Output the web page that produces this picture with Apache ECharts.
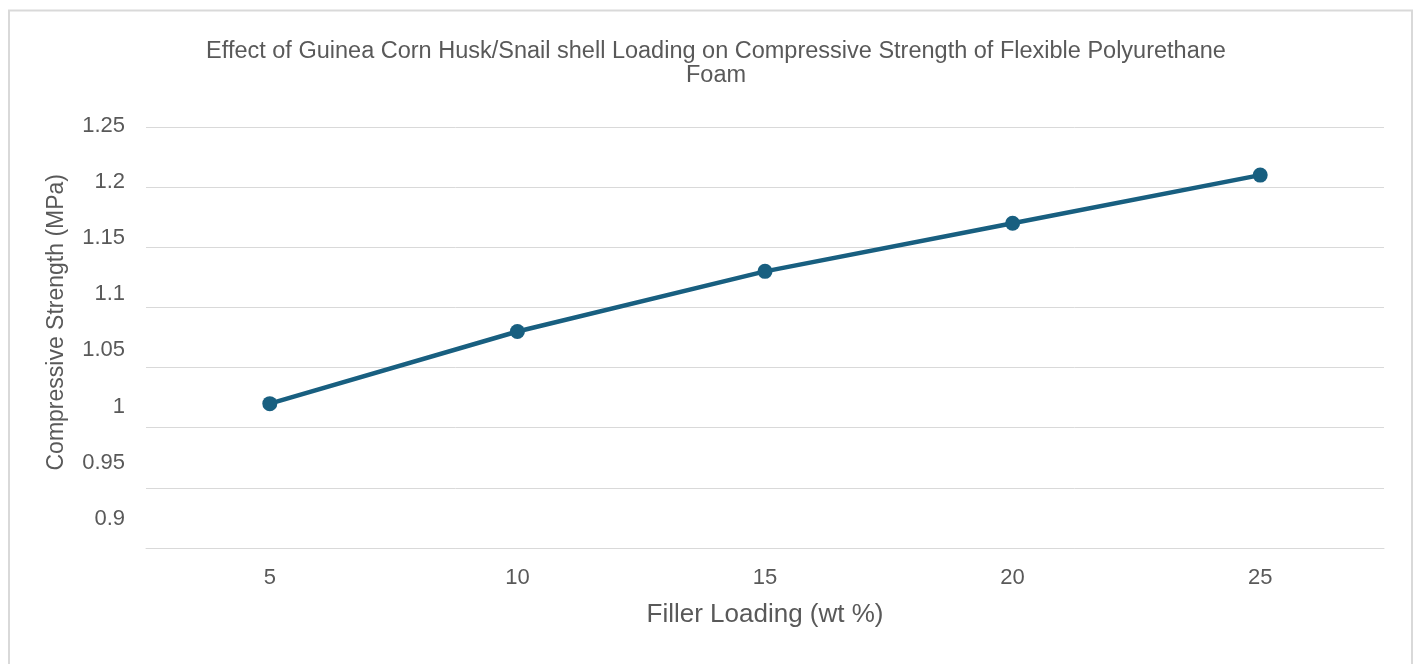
<!DOCTYPE html>
<html>
<head>
<meta charset="utf-8">
<script src="https://cdn.jsdelivr.net/npm/echarts@6/dist/echarts.min.js"></script>
<style>
html,body{margin:0;padding:0;background:#fff;}
#chart{width:1417px;height:664px;}
</style>
</head>
<body>
<div id="chart"></div>
<script>
const categories = ['5', '10', '15', '20', '25'];
const strengthValues = [1.02, 1.08, 1.13, 1.17, 1.21];
const titleText = 'Effect of Guinea Corn Husk/Snail shell Loading on Compressive Strength of Flexible Polyurethane\nFoam';
const xAxisName = 'Filler Loading (wt %)';
const yAxisName = 'Compressive Strength (MPa)';
const yMin = 0.9, yMax = 1.25, yStep = 0.05;

const chart = echarts.init(document.getElementById('chart'), null, {renderer: 'canvas'});
const font = '"Liberation Sans", Arial, sans-serif';
const txt = '#595959';
const fmt = v => String(parseFloat(v.toFixed(2)));
chart.setOption({
  backgroundColor: '#fff',
  animation: false,
  graphic: [{
    type: 'rect',
    shape: {x: 9, y: 10.5, width: 1403, height: 700},
    style: {fill: 'none', stroke: '#d9d9d9', lineWidth: 2},
    silent: true
  }],
  title: {
    text: titleText,
    left: 711,
    top: 35,
    textAlign: 'center',
    textStyle: {fontFamily: font, fontSize: 23.5, fontWeight: 'normal', color: txt, lineHeight: 24}
  },
  grid: [
    {left: 146, right: 33, top: 127, height: 421},
    {left: 146, right: 33, top: 125.5, height: 393.5}
  ],
  xAxis: [{
    type: 'category',
    gridIndex: 0,
    data: categories,
    boundaryGap: true,
    name: xAxisName,
    nameLocation: 'middle',
    nameGap: 54,
    nameTextStyle: {fontFamily: font, fontSize: 26, color: txt},
    axisLine: {show: true, lineStyle: {color: '#d9d9d9', width: 1}},
    axisTick: {show: false},
    axisLabel: {fontFamily: font, fontSize: 22, color: txt, margin: 19}
  }, {
    type: 'category',
    gridIndex: 1,
    data: categories,
    show: false
  }],
  yAxis: [{
    type: 'value',
    gridIndex: 0,
    min: yMin,
    max: yMax,
    interval: yStep,
    axisLine: {show: false},
    axisTick: {show: false},
    axisLabel: {show: false},
    splitLine: {show: true, lineStyle: {color: '#d9d9d9', width: 1}}
  }, {
    type: 'value',
    gridIndex: 1,
    min: yMin,
    max: yMax,
    interval: yStep,
    name: yAxisName,
    nameLocation: 'middle',
    nameGap: 78,
    nameRotate: 90,
    nameTextStyle: {fontFamily: font, fontSize: 23, color: txt},
    axisLine: {show: false},
    axisTick: {show: false},
    splitLine: {show: false},
    axisLabel: {fontFamily: font, fontSize: 22, color: txt, margin: 21, formatter: fmt}
  }],
  series: [{
    type: 'line',
    xAxisIndex: 0,
    yAxisIndex: 0,
    data: strengthValues,
    symbol: 'circle',
    symbolSize: 15,
    lineStyle: {color: '#185f80', width: 4.5},
    itemStyle: {color: '#185f80'}
  }]
});
</script>
</body>
</html>
